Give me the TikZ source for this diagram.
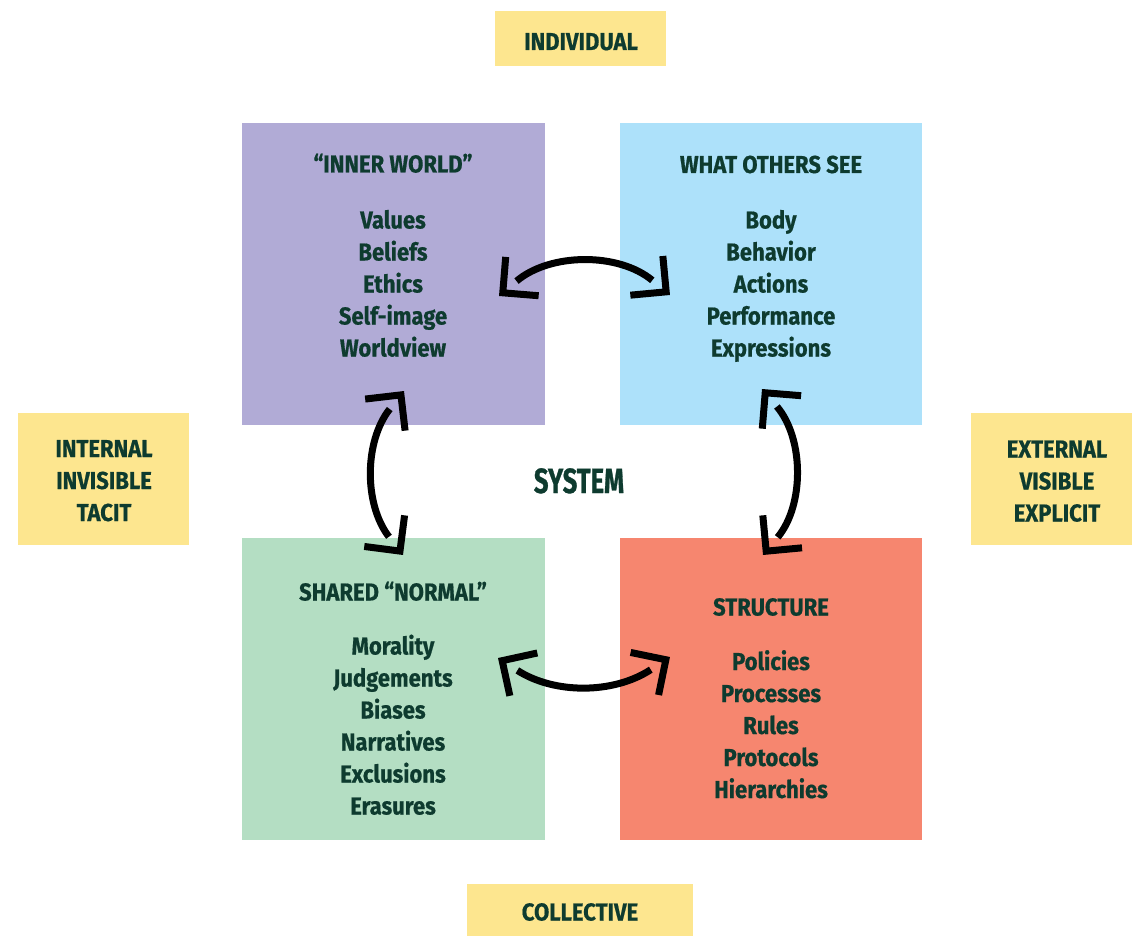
\documentclass[tikz,border=0pt]{standalone}
\usepackage{fontspec}
\newfontfamily\lblfont{Fira Sans}[FakeStretch=0.9, FakeBold=0.6]
\newfontfamily\sysfont{Fira Sans}[FakeStretch=0.73, FakeBold=0.8]
\usetikzlibrary{arrows.meta,decorations.markings}
\definecolor{cpurple}{HTML}{B1ABD6}
\definecolor{cblue}{HTML}{ADE1FA}
\definecolor{cgreen}{HTML}{B4DEC3}
\definecolor{cred}{HTML}{F6866F}
\definecolor{cyellow}{HTML}{FDE68F}
\definecolor{ctext}{HTML}{0E3B2F}
\tikzset{
  lbl/.style={text=ctext, inner sep=0pt, anchor=base,
    font=\lblfont\bfseries\fontsize{24.5}{32}\selectfont},
  big/.style={lbl, font=\sysfont\bfseries\fontsize{35}{40}\selectfont},
  tipA/.tip={Straight Barb[angle=90:36pt]},
  arr/.style={line width=7pt, black, shorten <=23pt, shorten >=23pt,
    postaction={decorate, decoration={markings,
      mark=at position 0 with {\arrowreversed{tipA}},
      mark=at position 0.9999 with {\arrow{tipA}}}}},
}
\begin{document}
\begin{tikzpicture}[x=1pt, y=-1pt]
\useasboundingbox (0,0) rectangle (1132,936);
% quadrant boxes
\fill[cpurple] (242,123) rectangle (545,425);
\fill[cblue] (620,123) rectangle (922,425);
\fill[cgreen] (242,538) rectangle (545,840);
\fill[cred] (620,538) rectangle (922,840);
% yellow labels
\fill[cyellow] (495,11) rectangle (666,66);
\fill[cyellow] (18,413) rectangle (189,545);
\fill[cyellow] (971,413) rectangle (1132,545);
\fill[cyellow] (467,884) rectangle (693,936);
\node[lbl] (ind) at (581,50) {INDIVIDUAL};
\node[lbl] (col) at (580,920.5) {COLLECTIVE};
\foreach \t [count=\i from 0] in {INTERNAL,INVISIBLE,TACIT}
  \node[lbl] (int\i) at (104,457+32*\i) {\t};
\foreach \t [count=\i from 0] in {EXTERNAL,VISIBLE,EXPLICIT}
  \node[lbl] (ext\i) at (1057,457.5+32*\i) {\t};
\node[big] (sys) at (579,493) {SYSTEM};
% headings
\node[lbl] (hp) at (393,172.5) {“INNER WORLD”};
\node[lbl] (hb) at (771,173) {WHAT OTHERS SEE};
\node[lbl] (hg) at (393,600.5) {SHARED “NORMAL”};
\node[lbl] (hr) at (771,615.5) {STRUCTURE};
% lists
\foreach \t [count=\i from 0] in {Values,Beliefs,Ethics,Self-image,Worldview}
  \node[lbl] (p\i) at (393,228.5+32*\i) {\t};
\foreach \t [count=\i from 0] in {Body,Behavior,Actions,Performance,Expressions}
  \node[lbl] (b\i) at (771,228.5+32*\i) {\t};
\foreach \t [count=\i from 0] in {Morality,Judgements,Biases,Narratives,Exclusions,Erasures}
  \node[lbl] (g\i) at (393,654.5+32*\i) {\t};
\foreach \t [count=\i from 0] in {Policies,Processes,Rules,Protocols,Hierarchies}
  \node[lbl] (r\i) at (771,670+32*\i) {\t};
% arrows
\coordinate (tl) at (499,296);
\coordinate (tr) at (670,295);
\coordinate (bl) at (498,658);
\coordinate (br) at (670,657);
\coordinate (lt) at (404,391);
\coordinate (lb) at (403,555);
\coordinate (rt) at (762,389);
\coordinate (rb) at (763,555);
\draw[arr] (tl) to[bend left=40] (tr);
\draw[arr] (bl) to[bend right=33] (br);
\draw[arr] (lt) to[bend right=38] (lb);
\draw[arr] (rt) to[bend left=40] (rb);
\end{tikzpicture}
\end{document}
